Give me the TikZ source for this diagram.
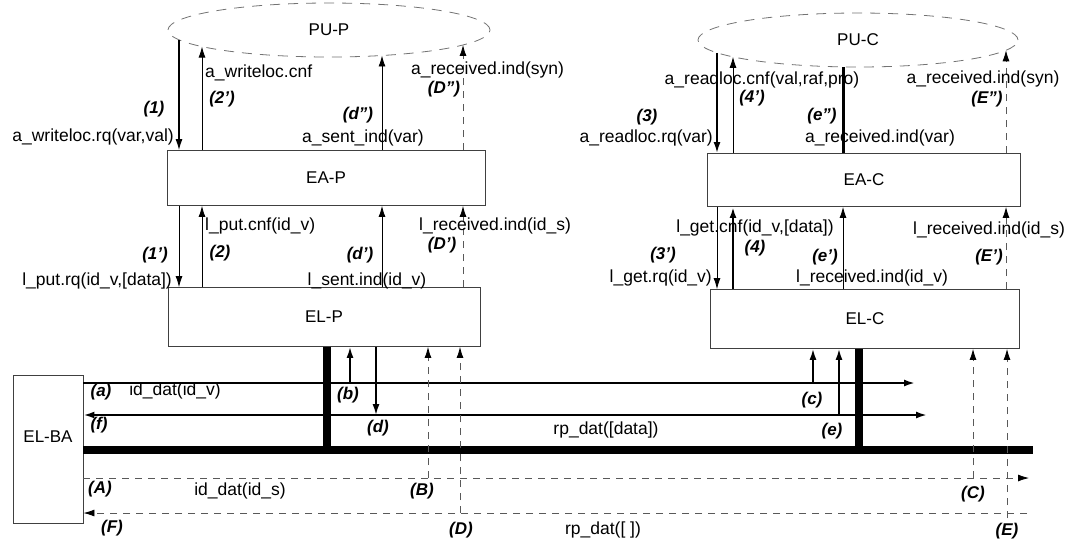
\documentclass[tikz,border=0pt]{standalone}
\usepackage{fontspec}
\setmainfont{Liberation Sans}
\usetikzlibrary{arrows.meta,calc,shapes.geometric}

\begin{document}
\begin{tikzpicture}[x=1pt,y=-1pt,
  unit/.style={ellipse,draw=black!55,dash pattern=on 10pt off 8pt,line width=0.8pt,minimum width=322,minimum height=54,inner sep=0pt,font=\fontsize{17}{20}\selectfont},
  layer/.style={draw=black!75,line width=0.9pt,inner sep=0pt,font=\fontsize{17}{20}\selectfont},
  msg/.style={inner sep=1pt,font=\fontsize{17.5}{20}\selectfont},
  tag/.style={inner sep=1pt,font=\fontsize{17}{20}\selectfont\bfseries\itshape},
  sig/.style={-{Latex[length=11pt,width=7pt]},line width=0.8pt},
  wire/.style={{Latex[length=11pt,width=7pt]}-{Latex[length=11pt,width=7pt]},line width=2pt},
  ghost/.style={-{Latex[length=11pt,width=7pt,black]},draw=black!65,line width=0.8pt,dash pattern=on 7pt off 6pt},
  trunk/.style={line width=8pt}]
\useasboundingbox (0,0) rectangle (1072,539);
\node[unit] (PUP) at (329,30) {PU-P};
\node[unit,minimum width=320] (PUC) at (858,40) {PU-C};
\node[layer,minimum width=318,minimum height=55] (EAP) at (326,178) {EA-P};
\node[layer,minimum width=313,minimum height=53] (EAC) at (864,180) {EA-C};
\node[layer,minimum width=312,minimum height=59] (ELP) at (324,317) {EL-P};
\node[layer,minimum width=309,minimum height=59] (ELC) at (865,319) {EL-C};
\node[layer,minimum width=70,minimum height=148,text depth=24pt] (ELBA) at (48,449) {EL-BA};
\foreach \n/\dx in {1/-150,2/-127,3/53,4/134}{\coordinate (P\n) at ($(PUP.center)+(\dx,{27*sqrt(1-(\dx/161)^2)})$);}
\foreach \n/\dx in {1/-141,2/-125,3/-15,4/148}{\coordinate (C\n) at ($(PUC.center)+(\dx,{27*sqrt(1-(\dx/160)^2)})$);}
\draw[sig,line width=1.1pt] (P1) -- (P1 |- EAP.north);
\draw[sig] (P2 |- EAP.north) -- (P2);
\draw[sig] (P3 |- EAP.north) -- (P3);
\draw[ghost] (P4 |- EAP.north) -- (P4);
\draw[sig] (P1 |- EAP.south) -- (P1 |- ELP.north);
\draw[sig] (P2 |- ELP.north) -- (P2 |- EAP.south);
\draw[sig] (P3 |- ELP.north) -- (P3 |- EAP.south);
\draw[ghost] (P4 |- ELP.north) -- (P4 |- EAP.south);
\draw[sig,line width=1.8pt] (C1) -- (C1 |- EAC.north);
\draw[sig] (C2 |- EAC.north) -- (C2);
\draw[line width=3pt] (C3 |- EAC.north) -- (C3);
\draw[ghost] (C4 |- EAC.north) -- (C4);
\draw[sig] (C1 |- EAC.south) -- (C1 |- ELC.north);
\draw[sig,line width=2.6pt] (C2 |- ELC.north) -- (C2 |- EAC.south);
\draw[sig] (C3 |- ELC.north) -- (C3 |- EAC.south);
\draw[ghost] (C4 |- ELC.north) -- (C4 |- EAC.south);
\coordinate (a) at (915,383);
\coordinate (f) at (927,415);
\coordinate (busend) at (1033,450);
\coordinate (A) at (1029,478);
\coordinate (F) at (1027,513);
\coordinate (bp) at (327,450);
\coordinate (bc) at (859,450);
\coordinate (b) at (350,383);
\coordinate (d) at (376,415);
\coordinate (c) at (813,383);
\coordinate (e) at (839,415);
\coordinate (B) at (428,478);
\coordinate (D) at (460,513);
\coordinate (C) at (973,478);
\coordinate (E) at (1007,518);
\draw[sig,line width=2pt] (ELBA.east |- a) -- (a);
\draw[wire] (ELBA.east |- f) -- (f);
\draw[ghost] (ELBA.east |- A) -- (A);
\draw[ghost] (F) -- (ELBA.east |- F);
\draw[trunk] (ELBA.east |- busend) -- (busend);
\draw[trunk] (ELP.south -| bp) -- (bp);
\draw[trunk] (ELC.south -| bc) -- (bc);
\draw[sig,line width=1.6pt] (b) -- (b |- ELP.south);
\draw[sig,line width=1.6pt] (d |- ELP.south) -- (d);
\draw[sig,line width=1.6pt] (c) -- (c |- ELC.south);
\draw[sig,line width=1.6pt] (e) -- (e |- ELC.south);
\draw[ghost] (B) -- (B |- ELP.south);
\draw[ghost] (D) -- (D |- ELP.south);
\draw[ghost] (C) -- (C |- ELC.south);
\draw[ghost] (E) -- (E |- ELC.south);
\node[tag] (t1) at (154,109) {(1)};
\node[msg,anchor=east] (wrq) at (175,137) {a\_writeloc.rq(var,val)};
\node[msg,anchor=west] (wcnf) at (204,73) {a\_writeloc.cnf};
\node[tag] (t2q) at (222,99) {(2')};
\node[tag] (tdqq) at (358,115) {(d'')};
\node[msg] (sind) at (363,138) {a\_sent\_ind(var)};
\node[msg,anchor=west] (rsynp) at (410,70) {a\_received.ind(syn)};
\node[tag] (tDqq) at (444,89) {(D'')};
\node[msg,anchor=west] (pcnf) at (204,226) {l\_put.cnf(id\_v)};
\node[msg,anchor=west] (rsp) at (418,226) {l\_received.ind(id\_s)};
\node[tag] (t1q) at (155,255) {(1')};
\node[tag] (t2) at (220,253) {(2)};
\node[tag] (tdq) at (360,255) {(d')};
\node[tag] (tDq) at (442,245) {(D')};
\node[msg,anchor=east] (prq) at (173,281) {l\_put.rq(id\_v,[data])};
\node[msg] (lsind) at (367,281) {l\_sent.ind(id\_v)};
\node[tag] (t3) at (647,117) {(3)};
\node[msg,anchor=east] (rrq) at (714,138) {a\_readloc.rq(var)};
\node[msg] (rcnf) at (762,80) {a\_readloc.cnf(val,raf,pro)};
\node[tag] (t4q) at (752,98) {(4')};
\node[tag] (teqq) at (822,116) {(e'')};
\node[msg] (rvar) at (880,138) {a\_received.ind(var)};
\node[msg] (rsync) at (983,79) {a\_received.ind(syn)};
\node[tag] (tEqq) at (987,99) {(E'')};
\node[msg] (gcnf) at (755,228) {l\_get.cnf(id\_v,[data])};
\node[tag] (t3q) at (663,255) {(3')};
\node[tag] (t4) at (755,248) {(4)};
\node[tag] (teq) at (825,257) {(e')};
\node[msg,anchor=east] (grq) at (713,278) {l\_get.rq(id\_v)};
\node[msg] (lrv) at (872,278) {l\_received.ind(id\_v)};
\node[msg] (lrs) at (989,230) {l\_received.ind(id\_s)};
\node[tag] (tEq) at (989,257) {(E')};
\node[tag] (ta) at (101,392) {(a)};
\node[msg] (idv) at (175,391) {id\_dat(id\_v)};
\node[tag] (tf) at (99,425) {(f)};
\node[tag] (tb) at (348,395) {(b)};
\node[tag] (td) at (378,428) {(d)};
\node[tag] (tc) at (812,400) {(c)};
\node[tag] (te) at (832,431) {(e)};
\node[msg] (rpd) at (606,430) {rp\_dat([data])};
\node[tag] (tA) at (100,489) {(A)};
\node[msg] (ids) at (240,491) {id\_dat(id\_s)};
\node[tag] (tB) at (422,491) {(B)};
\node[tag] (tC) at (973,494) {(C)};
\node[tag] (tF) at (112,528) {(F)};
\node[tag] (tD) at (461,530) {(D)};
\node[tag] (tE) at (1007,531) {(E)};
\node[msg] (rpe) at (603,530) {rp\_dat([ ])};
\end{tikzpicture}
\end{document}
